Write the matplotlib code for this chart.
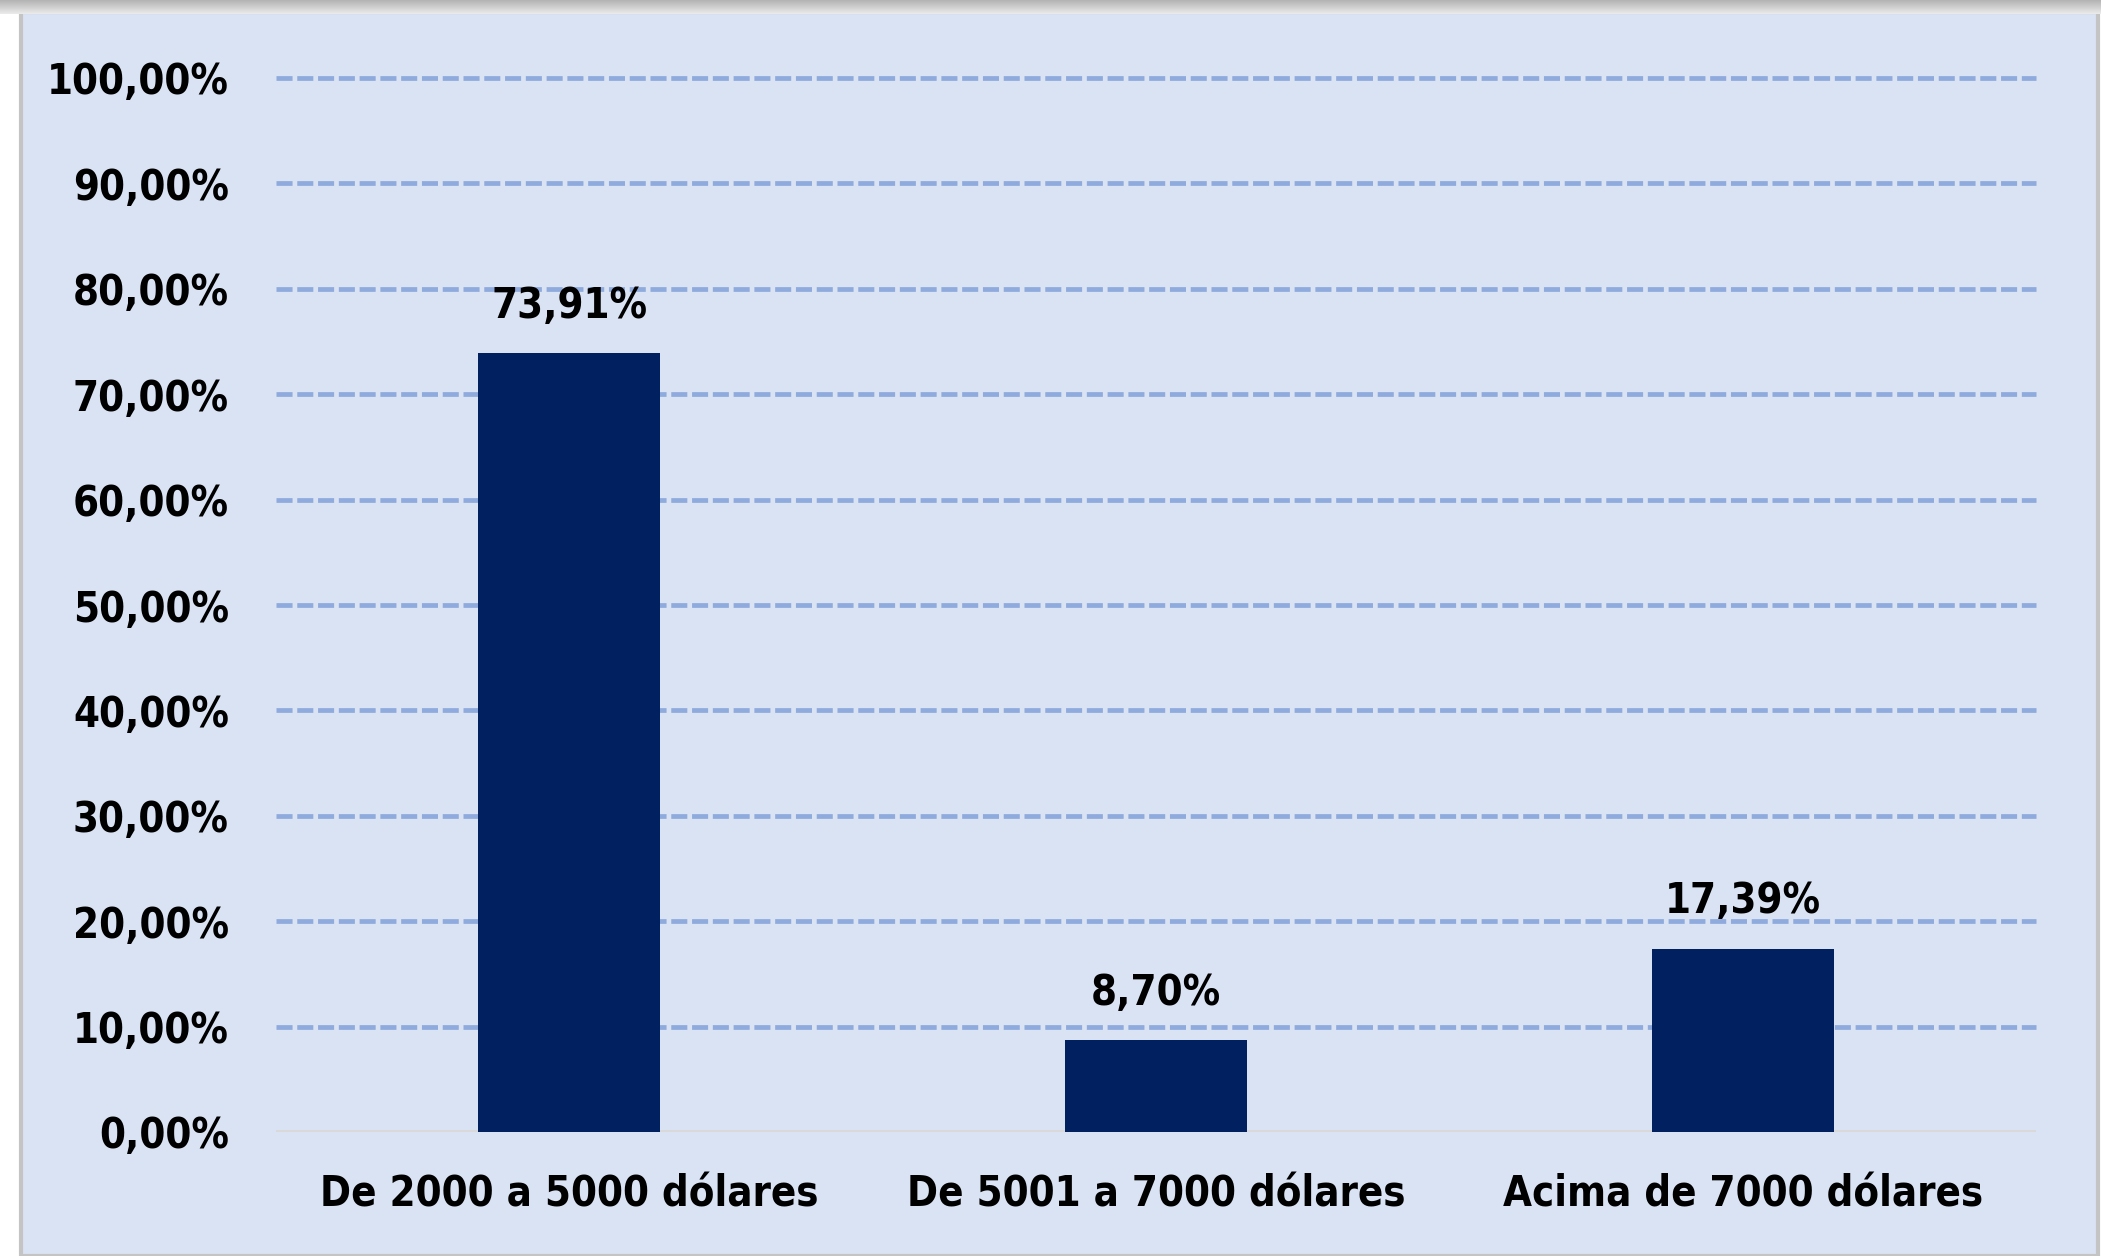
import matplotlib.pyplot as plt
import numpy as np
from matplotlib import patches

categories = ['De 2000 a 5000 dólares', 'De 5001 a 7000 dólares', 'Acima de 7000 dólares']
values = [73.91, 8.70, 17.39]
yticks = [0, 10, 20, 30, 40, 50, 60, 70, 80, 90, 100]

plt.rcParams['font.family'] = ['Liberation Sans Narrow', 'DejaVu Sans']
plt.rcParams['font.stretch'] = 'condensed'
plt.rcParams['font.weight'] = 'bold'

W, H = 2101, 1256
fig = plt.figure(figsize=(W / 100, H / 100), dpi=100, facecolor='white')

# top shadow strip
sh = fig.add_axes([0, 1 - 14 / H, 1, 14 / H])
grad = np.linspace(0.70, 0.92, 50).reshape(-1, 1)
sh.imshow(np.repeat(grad, 2, axis=1), cmap='gray', vmin=0, vmax=1, aspect='auto', extent=[0, 1, 0, 1])
sh.axis('off')

# chart panel
fig.patches.append(patches.Rectangle((21 / W, 0), (W - 24) / W, 1 - 12 / H, transform=fig.transFigure,
                                     facecolor='#DAE3F3', edgecolor='#C4C4C4', linewidth=3, zorder=-10))

ax = fig.add_axes([276 / W, 1 - 1132 / H, (2036 - 276) / W, (1132 - 78) / H])
ax.set_zorder(5)
ax.set_facecolor('none')
x = np.arange(len(categories))
ax.bar(x, values, width=0.31, color='#002060', zorder=3)
ax.set_xlim(-0.5, 2.5)
ax.set_ylim(0, 100)

for v in yticks[1:]:
    ax.axhline(v, color='#8FAADC', linestyle=(0, (3.4, 1.0)), linewidth=3.4, zorder=1, clip_on=False)
ax.axhline(0, color='#D9D9D9', linewidth=3.5, zorder=2)

ax.set_yticks(yticks)
ax.set_yticklabels(['%d,00%%' % v for v in yticks], fontsize=30)
ax.set_xticks(x)
ax.set_xticklabels(categories, fontsize=30)
ax.tick_params(axis='y', length=0, pad=34)
ax.tick_params(axis='x', length=0, pad=30)
for s in ax.spines.values():
    s.set_visible(False)

for xi, v in zip(x, values):
    ax.annotate(('%.2f%%' % v).replace('.', ','), (xi, v), xytext=(0, 19), textcoords='offset points',
                ha='center', va='bottom', fontsize=30, zorder=4)

fig.savefig('out.png', dpi=100)
